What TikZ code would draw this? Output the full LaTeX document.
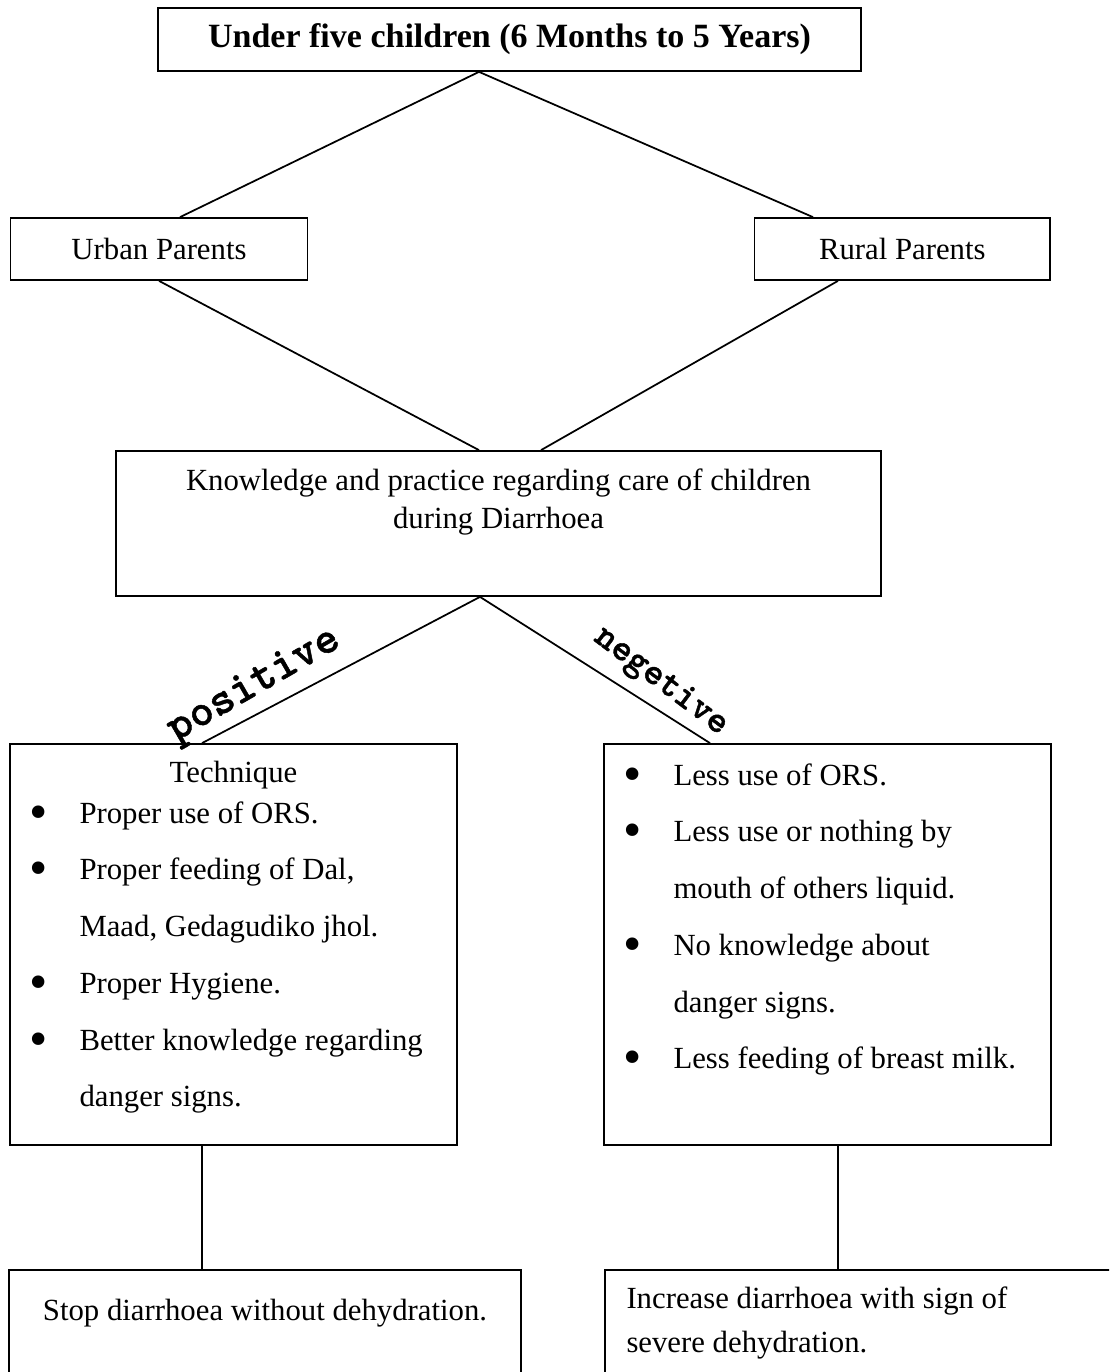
\documentclass[tikz,border=0pt]{standalone}
\usepackage{fontspec}
\setmainfont{Liberation Serif}
\newfontfamily\maquina{lmmonolt10-bold.otf}[FakeBold=1]
\usetikzlibrary{
	positioning,
	calc
}
\tikzset{
	caja/.style={
		draw,
		line width=0.7pt,
		inner sep=0pt,
		align=center,
		font=\fontsize{12.3}{15.2}\selectfont
	},
	cuerpo/.style={
		inner sep=0pt,
		align=left,
		font=\fontsize{12.3}{22.7}\selectfont
	},
	linea/.style={
		line width=0.7pt
	},
	rotulo/.style={
		inner sep=0pt
	}
}
\newcommand{\vineta}{\makebox[22.4pt][c]{\raisebox{-2.4pt}{\scalebox{1.7}{\textbullet}}}\hspace{5.2pt}}
\newcommand{\sangria}{\hspace*{27.6pt}}

\begin{document}
\begin{tikzpicture}[x=0.4pt, y=-0.4pt]
		\useasboundingbox (0,0) rectangle (1109,1372);
		\clip (0,0) rectangle (1109,1372);
		% cajas
		\node[caja, minimum width=281.2pt, minimum height=25.2pt, font=\fontsize{13.6}{16}\selectfont\bfseries] (ninos) at (509.5,39.5) {Under five children (6 Months to 5 Years)};
		\node[caja, minimum width=118.8pt, minimum height=24.8pt] (urbanos) at (159,249) {Urban Parents};
		\node[caja, minimum width=118.2pt, minimum height=24.8pt] (rurales) at (902.3,249) {Rural Parents};
		\node[caja, minimum width=306pt, minimum height=58pt] (saber) at (498.5,523.5) {};
		\node[caja, draw=none, anchor=north] (saberTxt) at (498.5,468) {Knowledge and practice regarding care of children\\during Diarrhoea};
		\node[caja, minimum width=178.8pt, minimum height=160.4pt] (tecnica) at (233.5,944.5) {};
		\node[caja, minimum width=178.8pt, minimum height=160.4pt] (falla) at (827.5,944.5) {};
		\node[caja, minimum width=204.8pt, minimum height=60pt] (parar) at (265,1345) {};
		\node[caja, minimum width=212pt, minimum height=60pt] (aumentar) at (870,1345) {};
		% textos
		\node[cuerpo, anchor=base] (tecnicaTit) at (233.5,782) {Technique};
		\node[cuerpo, anchor=north west] (tecnicaLst) at (10,801) {
			\vineta Proper use of ORS.\\
			\vineta Proper feeding of Dal,\\
			\sangria Maad, Gedagudiko jhol.\\
			\vineta Proper Hygiene.\\
			\vineta Better knowledge regarding\\
			\sangria danger signs.
		};
		\node[cuerpo, anchor=north west] (fallaLst) at (604,763) {
			\vineta Less use of ORS.\\
			\vineta Less use or nothing by\\
			\sangria mouth of others liquid.\\
			\vineta No knowledge about\\
			\sangria danger signs.\\
			\vineta Less feeding of breast milk.
		};
		\node[cuerpo, anchor=base] (pararTxt) at (265,1320) {Stop diarrhoea without dehydration.};
		\node[cuerpo, anchor=north west, font=\fontsize{12.3}{17.6}\selectfont] (aumentarTxt) at (626,1286) {Increase diarrhoea with sign of\\severe dehydration.};
		% lineas
		\coordinate (c1) at ($(ninos.south)+(-30.5,0)$);
		\draw[linea] (c1) -- ($(urbanos.north)+(21,0)$);
		\draw[linea] (c1) -- ($(rurales.north)+(-89.3,0)$);
		\draw[linea] (urbanos.south) -- ($(saber.north)+(-19.5,0)$);
		\draw[linea] ($(rurales.south)+(-64.3,0)$) -- ($(saber.north)+(42.5,0)$);
		\coordinate (c2) at ($(saber.south)+(-18.5,0)$);
		\draw[linea] (c2) -- ($(tecnica.north)+(-31.5,0)$);
		\draw[linea] (c2) -- ($(falla.north)+(-117.5,0)$);
		\coordinate (c3) at ($(tecnica.south)+(-31.5,0)$);
		\coordinate (c4) at ($(falla.south)+(10.5,0)$);
		\draw[linea] (c3) -- (c3 |- parar.north);
		\draw[linea] (c4) -- (c4 |- aumentar.north);
		% rotulos
		\node[rotulo, rotate=30, font=\maquina\fontsize{18.3}{18.3}\selectfont] (positivo) at (254.5,686) {positive};
		\node[rotulo, rotate=-37, font=\maquina\fontsize{15.1}{15.1}\selectfont] (negativo) at (660.5,682) {negetive};
	\end{tikzpicture}
\end{document}
